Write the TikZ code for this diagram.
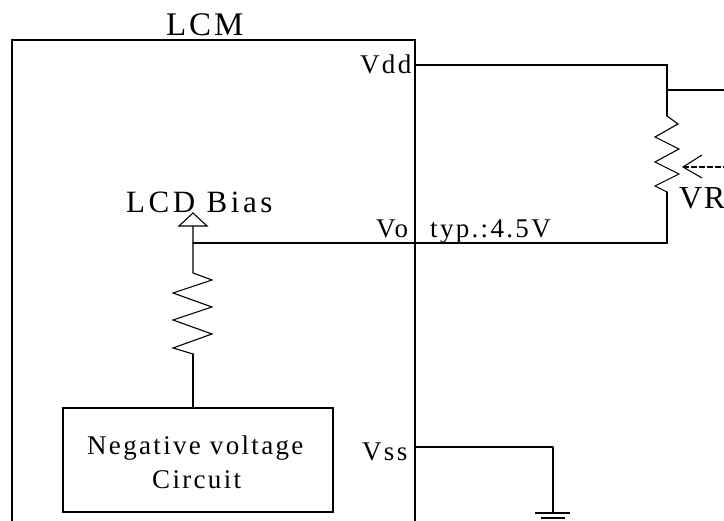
\documentclass[tikz,border=0pt]{standalone}
\usepackage{fontspec}
\setmainfont{Liberation Serif}
\newfontfamily\lblA[LetterSpace=11.5]{Liberation Serif}
\newfontfamily\lblB[LetterSpace=8.6]{Liberation Serif}
\newfontfamily\lblC[LetterSpace=5]{Liberation Serif}
\tikzset{
  wire/.style={line width=1.6pt,line cap=round,line join=miter},
  thin wire/.style={line width=1.1pt,line join=miter},
  big/.style={inner sep=0pt,font=\lblA\fontsize{31}{31}\selectfont,anchor=base west},
  titletext/.style={inner sep=0pt,font=\lblB\fontsize{33}{33}\selectfont,anchor=base west},
  vrtext/.style={inner sep=0pt,font=\lblC\fontsize{32}{32}\selectfont,anchor=base west},
  small/.style={inner sep=0pt,font=\lblB\fontsize{27}{27}\selectfont,anchor=base west},
  circuitbox/.style={draw,line width=1.6pt,inner sep=0pt,minimum width=270pt,minimum height=104pt,anchor=north west}
}
\begin{document}
\begin{tikzpicture}[x=1pt,y=-1pt]
\useasboundingbox (0,0) rectangle (724,521);
\fill[white] (0,0) rectangle (724,521);
\clip (0,0) rectangle (724,521);
\coordinate (boxBL) at (12,530);
\coordinate (boxTL) at (12,40);
\coordinate (boxTR) at (415,40);
\coordinate (boxBR) at (415,530);
\coordinate (vdd) at (415,65);
\coordinate (vddC) at (667,65);
\coordinate (rTop) at (667,116);
\coordinate (rBot) at (667,192);
\coordinate (voC) at (667,243);
\coordinate (voJ) at (193,243);
\coordinate (branch) at (667,90);
\coordinate (branchEnd) at (730,90);
\coordinate (wiperTip) at (683,167);
\coordinate (wiperEnd) at (730,167);
\coordinate (arrowBase) at (193,226);
\coordinate (r2Top) at (193,273);
\coordinate (r2Bot) at (193,354);
\coordinate (vss) at (415,447);
\coordinate (gndC) at (553,447);
\coordinate (gnd) at (553,513);
\draw[wire] (boxBL) -- (boxTL) -- (boxTR) -- (boxBR);
\node[titletext] (lcm) at (166,36) {LCM};
\node[small] (vddL) at (360,74) {Vdd};
\node[small] (voL) at (376,238) {Vo};
\node[small] (typL) at (430,238) {typ.:4.5V};
\node[small] (vssL) at (362,461) {Vss};
\node[big] (bias) at (126,213) {LCD Bias};
\node[vrtext] (vr) at (679,209) {VR};
\node[circuitbox] (neg) at (62,407) {};
\node[small] (negL) at (87,455) {Negative voltage};
\node[small] (circL) at (152,489) {Circuit};
\draw[wire] (vdd) -- (vddC) -- (rTop);
\draw[wire] (branch) -- (branchEnd);
\draw[wire] (voJ) -- (voC) -- (rBot);
\draw[thin wire] (rTop) -- (678,124) -- (655,137) -- (679,149) -- (655,162) -- (679,174) -- (655,186) -- (rBot);
\draw[thin wire] (702,155) -- (wiperTip) -- (702,178);
\draw[thin wire,dash pattern=on 6pt off 2pt] (wiperTip) -- (wiperEnd);
\draw[thin wire] (arrowBase) -- (r2Top) -- (212,280) -- (173,293) -- (212,307) -- (173,320) -- (212,334) -- (173,348) -- (r2Bot);
\draw[wire] (r2Bot) -- (neg.north -| r2Bot);
\draw[thin wire] (179,226) -- (193,213) -- (207,226) -- cycle;
\draw[wire] (vss) -- (gndC);
\draw[thin wire] (gndC) -- (gnd);
\draw[thin wire] (535,513) -- (570,513);
\draw[thin wire] (541,518) -- (565,518);
\end{tikzpicture}
\end{document}
